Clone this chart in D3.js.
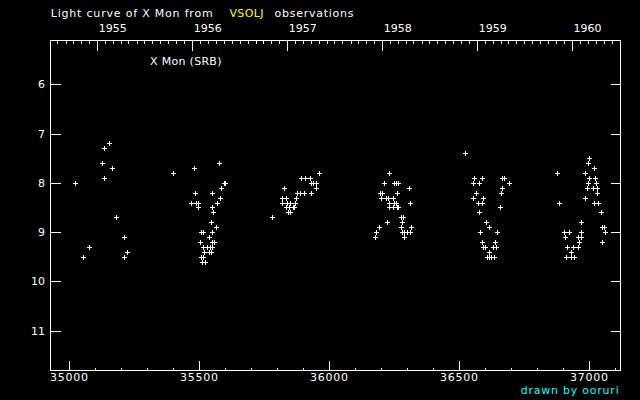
<!DOCTYPE html>
<html>
<head>
<meta charset="utf-8">
<script src="https://cdn.jsdelivr.net/npm/d3@7"></script>
<style>
html,body{margin:0;padding:0;background:#000;}
svg{display:block;}
text{font-family:"DejaVu Sans",sans-serif;font-size:11px;}
</style>
</head>
<body>
<script>
// Observations: reduced Julian Date (JD - 2400000) and visual magnitude
const jd = [
35023,35053,35077,35127,35134,35134,35153,35165,35180,35211,35211,35223,
35400,35469,35480,35484,35488,35496,35496,35503,35507,35507,35511,35515,35515,35515,35518,35522,35530,35538,35538,35542,35546,35546,35550,35550,35550,35550,35550,35553,35557,35565,35569,35577,35580,35584,35594,35599,
35780,35819,35819,35827,35834,35836,35838,35842,35845,35850,35850,35861,35866,35869,35872,35876,35887,35892,35902,35907,35927,35930,35932,35940,35950,35950,35961,
36177,36180,36192,36197,36200,36205,36211,36219,36223,36227,36230,36230,36230,36246,36246,36250,36250,36256,36258,36261,36261,36265,36266,36277,36277,36280,36280,36284,36288,36288,36300,36307,36310,36311,36315,
36523,36555,36555,36557,36565,36573,36577,36577,36581,36588,36588,36588,36592,36592,36600,36604,36607,36615,36615,36615,36623,36630,36634,36638,36642,36646,36657,36661,36665,36665,36673,36690,
36876,36884,36903,36907,36911,36915,36923,36930,36930,36938,36942,36957,36957,36961,36969,36969,36969,36984,36986,36990,36996,36996,36999,36999,37015,37019,37019,37022,37027,37030,37030,37034,37046,37050,37050,37058,37061
];
const mag = [
8.0,9.5,9.3,7.6,7.3,7.9,7.2,7.7,8.7,9.1,9.5,9.4,
7.8,8.4,7.7,8.2,8.4,8.4,8.5,9.2,9.0,9.5,9.6,9.0,9.3,9.5,9.4,9.6,9.3,9.1,9.4,9.3,8.8,9.4,8.2,8.5,9.0,9.2,9.3,8.6,9.2,8.9,8.4,7.6,8.3,8.1,8.0,8.0,
8.7,8.3,8.4,8.1,8.5,8.3,8.4,8.6,8.5,8.4,8.6,8.5,8.5,8.4,8.3,8.2,8.2,7.9,8.2,7.9,7.9,8.2,8.0,8.0,8.0,8.1,7.8,
9.1,9.0,8.9,8.2,8.3,8.2,8.0,8.3,8.8,8.3,7.8,8.4,8.5,8.3,8.5,8.0,8.4,8.4,8.0,8.2,8.5,8.0,8.5,8.7,8.9,8.8,9.0,8.7,9.0,9.1,9.0,8.1,9.0,8.4,8.9,
7.4,8.0,8.3,7.9,8.2,8.4,8.0,8.6,9.0,7.9,8.4,9.2,8.3,9.3,9.3,8.8,9.5,8.9,9.4,9.5,9.5,9.3,9.5,9.2,9.3,9.0,8.5,8.2,7.9,8.1,7.9,8.0,
7.8,8.4,9.0,9.1,9.5,9.3,9.0,9.4,9.5,9.3,9.5,9.1,9.3,9.2,8.8,9.0,9.1,8.3,7.8,8.1,7.6,8.0,7.5,7.9,8.1,7.7,8.4,7.9,8.0,8.1,8.2,8.4,8.6,8.9,9.2,8.9,9.0
];
const jdTicks = [35000,35500,36000,36500,37000];
const magTicks = [6,7,8,9,10,11];
const years = [1955,1956,1957,1958,1959,1960];
const titleParts = ["Light curve of X Mon from", "VSOLJ", "observations"];
const starLabel = "X Mon (SRB)";
const credit = "drawn by ooruri";

const W = 640, H = 400;
const L = 50, R = 620, T = 40, B = 370;

const svg = d3.select("body").append("svg").attr("width", W).attr("height", H)
  .style("background", "#000");

const x = d3.scaleLinear().domain([34926.7, 37118.8]).range([L, R]);
const y = d3.scaleLinear().domain([5.1, 11.8]).range([T, B]);
const px = v => Math.round(v) + 0.5;

// JD (reduced) of a calendar date (UTC 0h)
const rjd = (yy, mm) => Date.UTC(yy, mm, 1) / 86400000 + 2440587.5 - 2400000;

const g = svg.append("g").attr("stroke", "#fff").attr("stroke-width", 1)
  .attr("shape-rendering", "crispEdges").attr("fill", "none");

// frame
g.append("rect").attr("x", L + 0.5).attr("y", T + 0.5).attr("width", R - L).attr("height", B - T);

// bottom axis ticks (major every 500, minor every 100)
const minorJD = d3.range(35000, 37101, 100);
minorJD.forEach(d => {
  const major = d % 500 === 0;
  const xx = px(x(d));
  g.append("line").attr("x1", xx).attr("x2", xx).attr("y1", B + 0.5).attr("y2", B + 0.5 - (major ? 10 : 3));
});
// top axis: years and months
for (let yy = 1954; yy <= 1961; yy++) {
  for (let m = 0; m < 12; m++) {
    const j = rjd(yy, m);
    const xx = x(j);
    if (xx <= L + 1 || xx >= R - 1) continue;
    const major = m === 0;
    g.append("line").attr("x1", px(xx)).attr("x2", px(xx)).attr("y1", T + 0.5).attr("y2", T + 0.5 + (major ? 10 : 3));
  }
}
// y ticks on both sides
magTicks.forEach(m => {
  const yy = px(y(m));
  g.append("line").attr("x1", L + 0.5).attr("x2", L + 0.5 + 10).attr("y1", yy).attr("y2", yy);
  g.append("line").attr("x1", R + 0.5).attr("x2", R + 0.5 - 10).attr("y1", yy).attr("y2", yy);
});

// labels
const txt = svg.append("g").attr("fill", "#fff");
txt.selectAll("text.xl").data(jdTicks).join("text").attr("class", "xl")
  .attr("x", d => x(d)).attr("y", 381).attr("text-anchor", "middle")
  .attr("textLength", 38).attr("lengthAdjust", "spacing").text(d => d);
txt.selectAll("text.yl").data(magTicks).join("text").attr("class", "yl")
  .attr("x", 45).attr("y", d => y(d) + 4).attr("text-anchor", "end").text(d => d);
txt.selectAll("text.yr").data(years).join("text").attr("class", "yr")
  .attr("x", d => x(rjd(d, 0)) + 1.5).attr("y", 32)
  .attr("textLength", 28).attr("lengthAdjust", "spacing").text(d => d);

// title
txt.append("text").attr("x", 50.7).attr("y", 16.5).attr("textLength", 162).attr("lengthAdjust", "spacing").text(titleParts[0]);
txt.append("text").attr("x", 229.4).attr("y", 16.5).attr("fill", "#ffff00").attr("textLength", 34).attr("lengthAdjust", "spacing").text(titleParts[1]);
txt.append("text").attr("x", 274.5).attr("y", 16.5).attr("textLength", 79).attr("lengthAdjust", "spacing").text(titleParts[2]);
txt.append("text").attr("x", 150).attr("y", 64.5).attr("textLength", 71.5).attr("lengthAdjust", "spacing").text(starLabel);
txt.append("text").attr("x", 520.7).attr("y", 394).attr("fill", "#00ffff").attr("textLength", 98).attr("lengthAdjust", "spacing").text(credit);

// data points as small plus marks
const pts = jd.map((d, i) => [d, mag[i]]);
svg.append("g").attr("stroke", "#fff").attr("stroke-width", 1).attr("shape-rendering", "crispEdges")
  .selectAll("path").data(pts).join("path")
  .attr("d", d => {
    const cx = Math.round(x(d[0])), cy = Math.round(y(d[1]));
    return `M${cx - 2},${cy + 0.5}H${cx + 3}M${cx + 0.5},${cy - 2}V${cy + 3}`;
  });
</script>
</body>
</html>
